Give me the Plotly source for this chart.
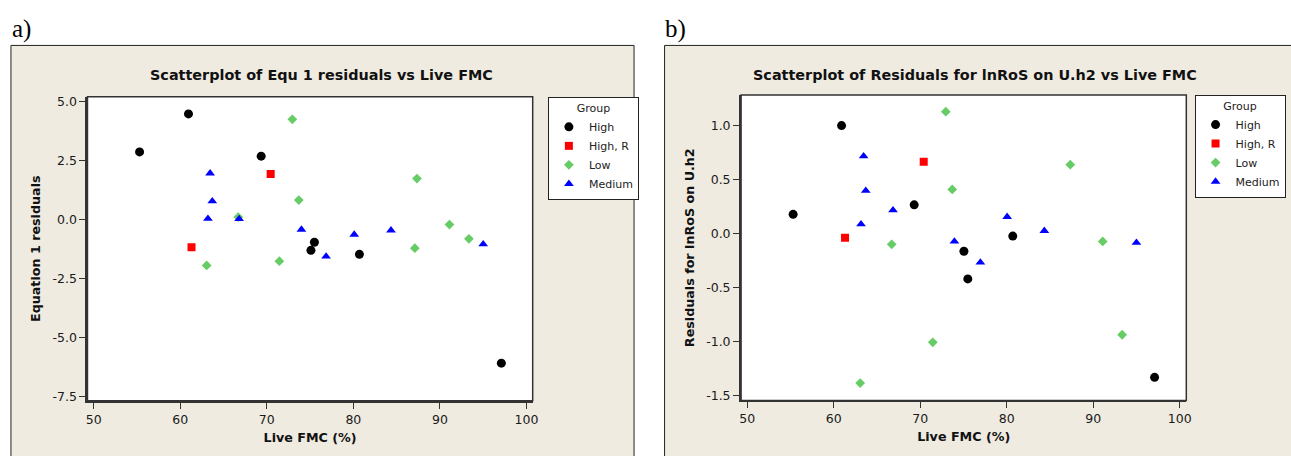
import plotly.graph_objects as go

W, H = 1291, 456

groups = ["High", "High, R", "Low", "Medium"]
colors = ["#000000", "#FF0000", "#66CC66", "#0000FF"]
symbols = ["circle", "square", "diamond", "triangle-up"]
sizes = [9, 8, 7.5, 8.5]

# ---- Panel a) : Equation 1 residuals vs Live FMC ----
a_high_x = [55.3, 60.95, 69.35, 75.1, 75.5, 80.7, 97.1]
a_high_y = [2.86, 4.47, 2.68, -1.31, -0.97, -1.48, -6.09]
a_highr_x = [70.45, 61.3]
a_highr_y = [1.92, -1.18]
a_low_x = [72.95, 73.7, 66.7, 63.05, 71.45, 87.35, 87.1, 91.1, 93.35]
a_low_y = [4.24, 0.82, 0.10, -1.95, -1.77, 1.73, -1.22, -0.22, -0.82]
a_med_x = [63.45, 63.7, 63.2, 66.8, 74.0, 76.85, 80.1, 84.35, 95.0]
a_med_y = [1.95, 0.77, 0.03, 0.02, -0.43, -1.57, -0.64, -0.46, -1.05]

# ---- Panel b) : Residuals for lnRoS on U.h2 vs Live FMC ----
b_high_x = [55.3, 60.9, 69.3, 75.05, 75.5, 80.7, 97.1]
b_high_y = [0.177, 0.998, 0.265, -0.164, -0.42, -0.024, -1.33]
b_highr_x = [70.4, 61.3]
b_highr_y = [0.663, -0.039]
b_low_x = [72.95, 73.7, 66.7, 63.05, 71.45, 87.35, 91.1, 93.35]
b_low_y = [1.126, 0.408, -0.10, -1.383, -1.006, 0.636, -0.073, -0.936]
b_med_x = [63.45, 63.7, 63.15, 66.85, 73.95, 76.95, 80.05, 84.35, 95.0]
b_med_y = [0.715, 0.396, 0.086, 0.216, -0.073, -0.267, 0.155, 0.025, -0.085]

x_ticks = [50, 60, 70, 80, 90, 100]
a_y_ticks = [-7.5, -5.0, -2.5, 0.0, 2.5, 5.0]
b_y_ticks = [-1.5, -1.0, -0.5, 0.0, 0.5, 1.0]

a_title = "Scatterplot of Equ 1 residuals vs Live FMC"
b_title = "Scatterplot of Residuals for lnRoS on U.h2 vs Live FMC"
a_ytitle = "Equation 1 residuals"
b_ytitle = "Residuals for lnRoS on U.h2"
xtitle = "Live FMC (%)"

FONT = "DejaVu Sans"
BEIGE = "#EFEBE1"
LINE = "#333333"

a_data = [(a_high_x, a_high_y), (a_highr_x, a_highr_y), (a_low_x, a_low_y), (a_med_x, a_med_y)]
b_data = [(b_high_x, b_high_y), (b_highr_x, b_highr_y), (b_low_x, b_low_y), (b_med_x, b_med_y)]

fig = go.Figure()
for i, (xs, ys) in enumerate(a_data):
    fig.add_trace(go.Scatter(x=xs, y=ys, mode="markers", name=groups[i],
                             marker=dict(color=colors[i], symbol=symbols[i], size=sizes[i], line=dict(width=0)),
                             xaxis="x", yaxis="y", legend="legend"))
for i, (xs, ys) in enumerate(b_data):
    fig.add_trace(go.Scatter(x=xs, y=ys, mode="markers", name=groups[i],
                             marker=dict(color=colors[i], symbol=symbols[i], size=sizes[i], line=dict(width=0)),
                             xaxis="x2", yaxis="y2", legend="legend2"))

def px_x(p):
    return p / W

def px_y(p):
    return 1 - p / H

axis_common = dict(showgrid=False, zeroline=False, showline=True, linecolor=LINE, linewidth=2,
                   ticks="outside", ticklen=6, tickcolor=LINE, tickwidth=1,
                   tickfont=dict(family=FONT, size=12.5, color="#1a1a1a"))

title_font = dict(family=FONT, size=12.7, color="#111111")

legend_common = dict(xanchor="left", yanchor="top", bgcolor="white", bordercolor="#222222", borderwidth=1,
                     font=dict(family=FONT, size=11, color="#222222"), itemwidth=30, tracegroupgap=0,
                     title=dict(text="Group", side="top center", font=dict(family=FONT, size=11, color="#222222")))

fig.update_layout(
    width=W, height=H, margin=dict(l=0, r=0, t=0, b=0),
    paper_bgcolor="white", plot_bgcolor="white", showlegend=True,
    xaxis=dict(domain=[px_x(86), px_x(534)], range=[49.28, 100.72], tickvals=x_ticks,
               ticktext=[str(v) for v in x_ticks], anchor="y",
               title=dict(text="<b>" + xtitle + "</b>", font=title_font, standoff=7),
               **axis_common),
    yaxis=dict(domain=[px_y(403), px_y(95)], range=[-7.68, 5.196], tickvals=a_y_ticks,
               ticktext=[f"{v:.1f}" for v in a_y_ticks], anchor="x",
               title=dict(text="<b>" + a_ytitle + "</b>", font=title_font, standoff=9),
               **axis_common),
    xaxis2=dict(domain=[px_x(743.7), px_x(1191.7)], range=[49.28, 100.77], tickvals=x_ticks,
                ticktext=[str(v) for v in x_ticks], anchor="y2",
                title=dict(text="<b>" + xtitle + "</b>", font=title_font, standoff=7),
                **axis_common),
    yaxis2=dict(domain=[px_y(402.7), px_y(93.3)], range=[-1.543, 1.28], tickvals=b_y_ticks,
                ticktext=[f"{v:.1f}" for v in b_y_ticks], anchor="x2",
                title=dict(text="<b>" + b_ytitle + "</b>", font=title_font, standoff=9),
                **axis_common),
    legend=dict(x=px_x(549.3), y=px_y(95.3), **legend_common),
    legend2=dict(x=px_x(1200), y=px_y(93), **legend_common),
)

shapes = [
    dict(type="rect", xref="paper", yref="paper", x0=px_x(9), x1=px_x(636), y0=-0.05, y1=px_y(43),
         fillcolor=BEIGE, line=dict(color="#222222", width=1), layer="below"),
    dict(type="rect", xref="paper", yref="paper", x0=px_x(666.7), x1=1.05, y0=-0.05, y1=px_y(43),
         fillcolor=BEIGE, line=dict(color="#222222", width=1), layer="below"),
    dict(type="rect", xref="x domain", yref="y domain", x0=0, x1=1, y0=0, y1=1,
         fillcolor="white", line=dict(color=LINE, width=1.5), layer="below"),
    dict(type="rect", xref="x2 domain", yref="y2 domain", x0=0, x1=1, y0=0, y1=1,
         fillcolor="white", line=dict(color=LINE, width=1.5), layer="below"),
]
fig.update_layout(shapes=shapes)

main_font = dict(family=FONT, size=14.4, color="#111111")
annotations = [
    dict(text="<b>" + a_title + "</b>", x=px_x(321.7), y=px_y(73.3), xref="paper", yref="paper",
         xanchor="center", yanchor="middle", showarrow=False, font=main_font),
    dict(text="<b>" + b_title + "</b>", x=px_x(979), y=px_y(73.3), xref="paper", yref="paper",
         xanchor="center", yanchor="middle", showarrow=False, font=main_font),
    dict(text="a)", x=px_x(8), y=px_y(26), xref="paper", yref="paper", xanchor="left", yanchor="middle",
         showarrow=False, font=dict(family="Liberation Serif", size=25, color="black")),
    dict(text="b)", x=px_x(665), y=px_y(26), xref="paper", yref="paper", xanchor="left", yanchor="middle",
         showarrow=False, font=dict(family="Liberation Serif", size=25, color="black")),
]
fig.update_layout(annotations=annotations)

fig.write_html("out.html")
